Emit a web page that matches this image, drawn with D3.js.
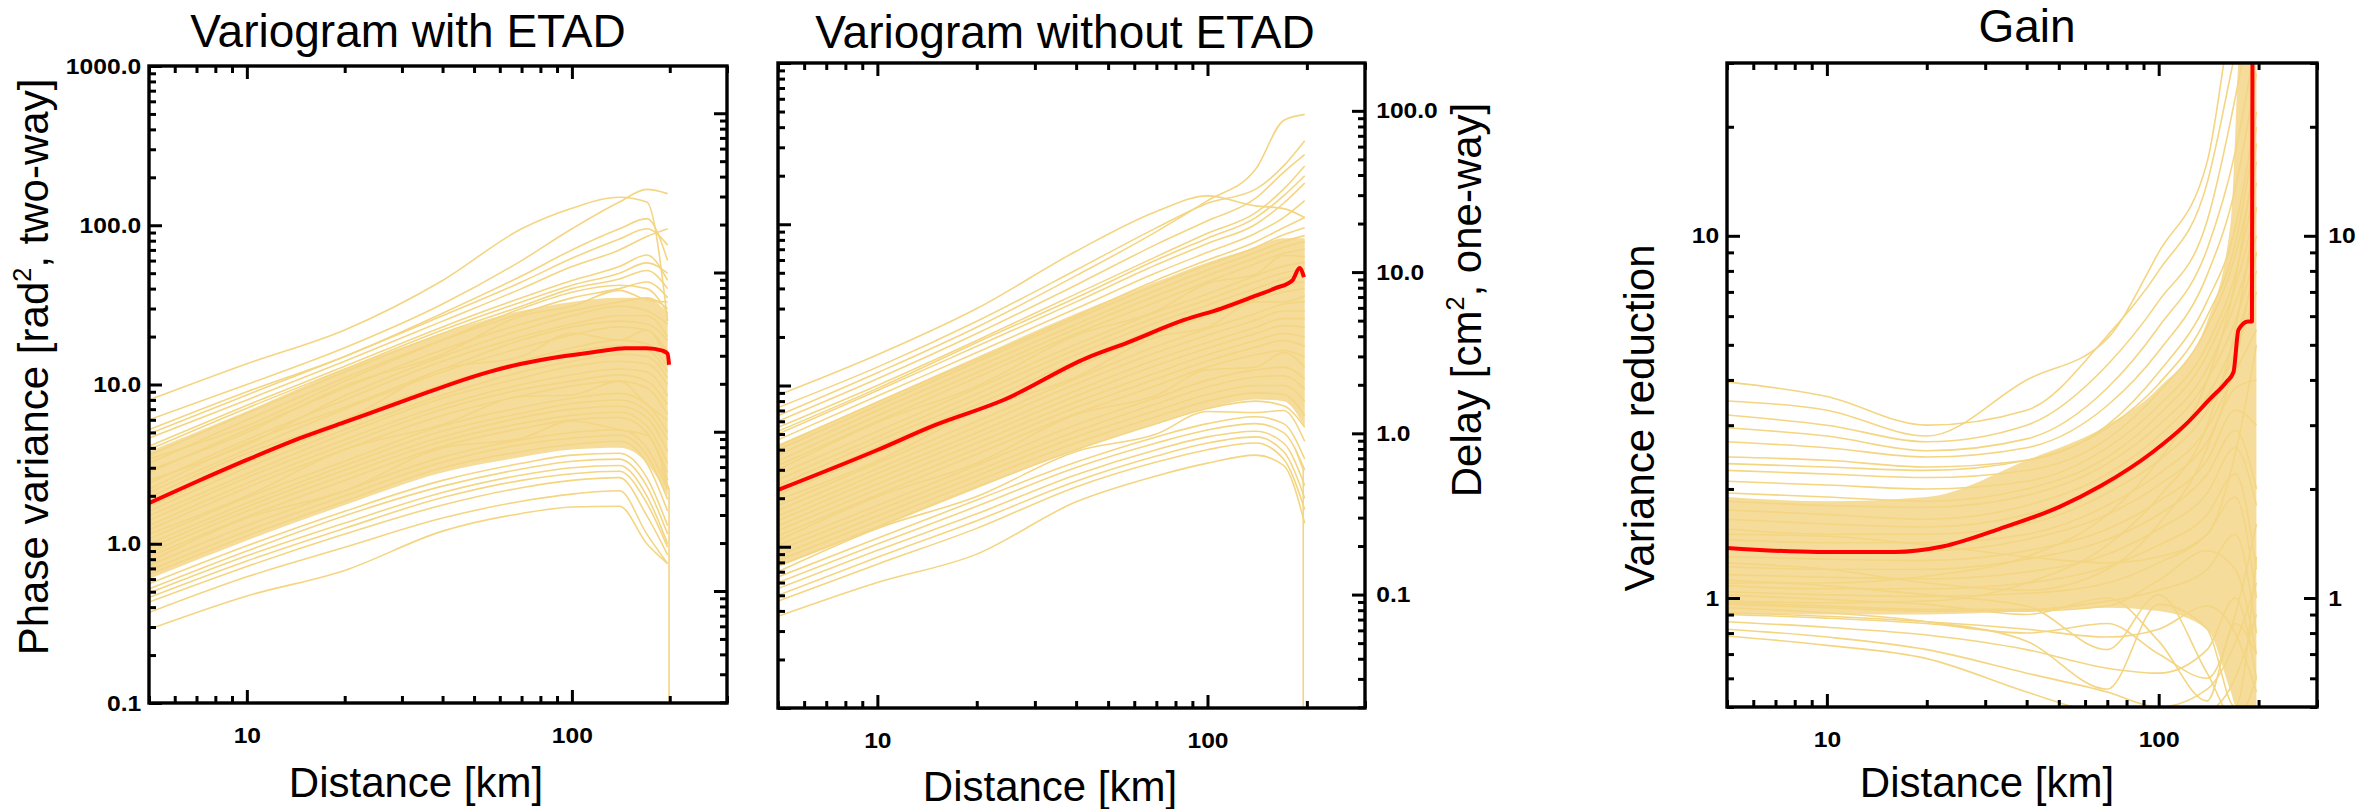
<!DOCTYPE html>
<html>
<head>
<meta charset="utf-8">
<script src="https://cdn.jsdelivr.net/npm/d3@7"></script>
<style>
    body { margin: 0; background: #fff; }
    text { font-family: "Liberation Sans", Arial, sans-serif; fill: #000; }
</style>
</head>
<body>
<svg id="chart" width="2371" height="809"></svg>
<script>
/*
    Variograms with / without ETAD and the gain between them
 */

// distance knots (km) shared by the yellow scene lines
const distKnots = [5, 10, 20, 40, 70, 100, 140, 170, 197];

// ---- Variogram with ETAD (phase variance, rad^2) ----
const withLines = [
    [8.0, 13.5, 22, 45, 95, 128, 150, 140, 25],
    [6.0, 10, 17, 32, 60, 95, 140, 168, 158],
    [5.2, 9, 15, 28, 48, 70, 95, 110, 60],
    [4.9, 8.6, 15, 27, 44, 62, 82, 95, 75],
    [4.6, 8, 14, 25, 40, 55, 70, 85, 95],
    [4.1, 7.4, 13, 23, 35, 45, 55, 65, 45],
    [3.9, 7.1, 12.5, 22, 33, 42, 50, 58, 50],
    [3.6, 6.6, 12, 21, 31, 40, 46, 52, 40],
    [3.4, 5.5, 10.5, 19, 30, 38, 42, 40, 28],
    [3.2, 6, 11, 19, 28, 35, 40, 44, 35],
    [2.9, 5.0, 9.8, 15.5, 27, 31, 39, 34, 33],
    [2.8, 5.2, 9.5, 16.5, 24, 29, 33, 35, 30],
    [2.5, 4.2, 8.5, 15, 22, 27, 31, 29, 24],
    [2.4, 4.5, 8, 14, 20, 24, 27, 27, 20],
    [2.2, 4.3, 7.2, 12.5, 19, 23, 25, 24, 19],
    [2.1, 3.9, 7, 12, 17, 20.5, 23, 22, 16],
    [1.95, 3.7, 6.0, 12.5, 15, 21, 19, 22, 14],
    [1.85, 3.4, 6, 10, 14, 17, 19, 18, 13],
    [1.7, 3.2, 5.6, 9.5, 13.5, 16, 17.5, 16.5, 12],
    [1.6, 3.0, 5.2, 8.6, 12, 14, 15.5, 15, 11],
    [1.5, 2.75, 4.9, 8.2, 11, 13, 14, 13.5, 10],
    [1.4, 2.6, 4.5, 7.4, 10, 11.5, 12.5, 12, 8.5],
    [1.3, 2.4, 4.2, 7.0, 9.3, 10.5, 11.5, 10.5, 7.5],
    [1.22, 2.25, 3.9, 6.4, 8.5, 9.8, 10.5, 9.5, 6.5],
    [1.15, 2.0, 3.9, 5.6, 8.4, 8.6, 10.5, 7.5, 6],
    [1.07, 1.95, 3.3, 5.5, 7.2, 8.2, 8.8, 7.5, 5],
    [1.0, 1.8, 3.1, 5.1, 6.6, 7.6, 8, 6.8, 4.5],
    [0.94, 1.7, 2.9, 4.7, 6.2, 7, 7.3, 6.2, 3.8],
    [0.88, 1.6, 2.7, 4.4, 5.7, 6.4, 6.7, 5.5, 3.2],
    [0.83, 1.48, 2.5, 4.1, 5.3, 6, 6.2, 5, 2.8],
    [0.77, 1.45, 2.15, 4.0, 4.6, 5.9, 5.2, 4.8, 2.5],
    [0.73, 1.3, 2.15, 3.5, 4.5, 5.0, 5.2, 4, 2.2],
    [0.68, 1.2, 2.0, 3.25, 4.2, 4.6, 4.8, 3.6, 1.9],
    [0.64, 1.12, 1.85, 3.0, 3.8, 4.2, 4.4, 3.2, 1.6],
    [0.56, 0.97, 1.6, 2.5, 3.2, 3.6, 3.7, 2.6, 1.3],
    [0.52, 0.9, 1.5, 2.3, 2.95, 3.3, 3.4, 2.3, 1.15],
    [0.49, 0.84, 1.35, 2.1, 2.7, 3.0, 3.1, 2.0, 1.0],
    [0.46, 0.78, 1.25, 1.95, 2.5, 2.75, 2.85, 1.8, 0.95],
    [0.43, 0.72, 1.15, 1.75, 2.25, 2.5, 2.6, 1.5, 0.85],
    [0.37, 0.62, 0.95, 1.45, 1.85, 2.05, 2.15, 1.15, 0.75],
    [0.29, 0.47, 0.68, 1.2, 1.55, 1.7, 1.72, 1.0, 0.75]
];
const withCoreLow = [0.6, 1.05, 1.75, 2.8, 3.5, 3.9, 4.0, 3.2, 2.0];
const withCoreHigh = [3.8, 6.8, 12.5, 21, 29, 33, 35, 35, 28];
const withMedianDist = [5, 7, 10, 15, 20, 31, 54, 70, 91, 120, 146, 170, 190, 197, 199];
const withMedian = [1.80, 2.45, 3.36, 4.7, 5.8, 8.0, 11.8, 13.5, 14.9, 16.1, 16.9, 16.9, 16.3, 15.6, 13.3];
const withDropDist = [188, 199, 199];
const withDropValue = [3.0, 2.2, 0.05];

// ---- Variogram without ETAD ----
const withoutLines = [
    [8.7, 15.5, 30, 68, 120, 150, 130, 125, 110],
    [7.3, 13, 25, 52, 95, 135, 165, 230, 330],
    [6.5, 12, 23, 48, 90, 140, 220, 440, 480],
    [6.0, 11, 21, 42, 75, 105, 145, 210, 270],
    [5.5, 10, 19, 37, 63, 88, 118, 165, 230],
    [5.2, 9.6, 18.5, 35, 60, 82, 110, 150, 200],
    [5.0, 9.3, 17.5, 33, 56, 76, 100, 135, 180],
    [4.6, 8.6, 16, 30, 50, 67, 88, 110, 140],
    [4.2, 7.9, 14.5, 27, 45, 60, 78, 95, 110],
    [4.0, 7.5, 14, 26, 42, 56, 72, 86, 95],
    [3.7, 7.0, 13, 24, 39, 52, 67, 78, 85],
    [3.4, 6.5, 12, 22.5, 36, 48, 62, 72, 78],
    [3.2, 6.0, 11.2, 21, 33, 44, 57, 66, 70],
    [3.0, 5.9, 9.9, 20.5, 29, 43, 49, 64, 63],
    [2.8, 5.2, 9.6, 18, 28.5, 37, 48, 55, 58],
    [2.6, 4.8, 8.9, 16.7, 26.5, 34, 44, 50, 53],
    [2.4, 4.5, 8.2, 15.5, 24.5, 31.5, 40, 46, 50],
    [2.25, 4.15, 7.6, 14.2, 22.5, 29, 37, 42, 44],
    [2.1, 3.8, 7.0, 13, 21, 27, 34, 38, 40],
    [1.95, 3.4, 6.9, 11.3, 20, 23, 33, 33, 36],
    [1.8, 3.3, 6.0, 11, 17.5, 22.5, 28, 32, 33],
    [1.68, 3.05, 5.55, 10.2, 16, 20.5, 25.5, 29, 29],
    [1.55, 2.85, 5.1, 9.3, 14.5, 18.5, 23, 26, 26],
    [1.45, 2.65, 4.75, 8.6, 13.3, 17, 21, 23.5, 23],
    [1.35, 2.45, 4.4, 7.9, 12, 15.5, 19, 21, 20],
    [1.26, 2.27, 4.05, 7.3, 11, 14.2, 17.3, 19, 17.5],
    [1.17, 2.1, 3.75, 6.7, 10, 13, 15.5, 16.5, 15],
    [1.09, 2.05, 3.3, 6.6, 8.7, 12.5, 13, 16, 13],
    [1.02, 1.8, 3.2, 5.7, 8.4, 10.8, 12.5, 13, 11],
    [0.95, 1.68, 2.95, 5.2, 7.7, 9.8, 11.3, 11.5, 9.5],
    [0.88, 1.55, 2.75, 4.8, 7, 8.8, 10, 10, 8],
    [0.82, 1.44, 2.55, 4.4, 6.4, 8, 9, 8.8, 6.5],
    [0.76, 1.33, 2.35, 4.0, 5.8, 7.2, 8, 7.5, 5.5],
    [0.7, 1.3, 2.05, 3.9, 5.0, 6.9, 6.8, 7.0, 4.5],
    [0.65, 1.13, 1.95, 3.35, 4.8, 5.8, 6.4, 5.8, 3.5],
    [0.6, 1.04, 1.78, 3.1, 4.4, 5.3, 5.8, 5.1, 3],
    [0.55, 0.95, 1.6, 2.8, 4.0, 4.8, 5.2, 4.4, 2.4],
    [0.5, 0.86, 1.45, 2.55, 3.65, 4.4, 4.8, 3.9, 2],
    [0.46, 0.78, 1.3, 2.35, 3.35, 4.0, 4.4, 3.5, 1.7],
    [0.37, 0.6, 0.9, 1.9, 2.75, 3.3, 3.7, 3.2, 1.4]
];
const withoutCoreLow = [0.75, 1.3, 2.3, 4.0, 5.8, 7.2, 8.2, 8.0, 5.5];
const withoutCoreHigh = [4.3, 8.0, 15, 28, 44, 58, 72, 82, 82];
const withoutMedianDist = [5, 10, 15, 24, 43, 57, 85, 110, 137, 160, 181, 190, 196];
const withoutMedian = [2.25, 3.98, 5.7, 8.1, 14.8, 18.4, 25.5, 30, 35.4, 40, 45, 53.6, 47];
const withoutDropDist = [185, 195, 195];
const withoutDropValue = [4.0, 3.0, 0.05];

// ---- Gain (variance reduction) ----
const gainLines = [
    [3.95, 3.6, 3.0, 3.3, 5.3, 8, 14, 32, 60],
    [3.5, 3.3, 2.8, 4.0, 5.2, 9, 16, 45, 60],
    [3.2, 3.0, 2.7, 3.0, 4.4, 6.6, 11, 24, 50],
    [2.95, 2.8, 2.55, 2.75, 3.8, 5.6, 9.2, 17, 35],
    [2.7, 2.6, 2.45, 2.6, 3.4, 4.8, 7.8, 13.5, 28],
    [2.45, 2.4, 2.3, 2.4, 3.0, 4.2, 6.6, 10.5, 22],
    [2.35, 2.3, 2.25, 2.4, 2.95, 3.9, 6.0, 9.5, 20],
    [2.25, 2.2, 2.15, 2.25, 2.75, 3.7, 5.6, 8.8, 16],
    [2.1, 2.05, 2.0, 2.1, 2.6, 3.4, 5.0, 7.8, 14],
    [1.95, 1.9, 1.85, 2.0, 2.45, 3.2, 4.7, 7.2, 12],
    [1.85, 1.8, 1.78, 1.92, 2.35, 3.0, 4.3, 6.5, 10],
    [1.75, 1.7, 1.65, 1.8, 2.2, 2.8, 4.0, 5.8, 9],
    [1.65, 1.6, 1.57, 1.7, 2.05, 2.6, 3.6, 5.2, 8],
    [1.55, 1.5, 1.5, 1.6, 1.95, 2.4, 3.3, 4.8, 7],
    [1.5, 1.48, 1.4, 1.3, 1.25, 1.3, 1.5, 2.5, 5],
    [1.45, 1.42, 1.42, 1.5, 1.8, 2.2, 2.95, 4.2, 5.5],
    [1.38, 1.35, 1.35, 1.45, 1.7, 2.05, 2.7, 3.8, 4],
    [1.3, 1.28, 1.27, 1.35, 1.55, 1.85, 2.4, 3.3, 3],
    [1.25, 1.2, 1.1, 1.05, 1.2, 1.6, 2.6, 4.5, 9],
    [1.22, 1.2, 1.2, 1.28, 1.45, 1.7, 2.2, 2.9, 2],
    [1.16, 1.14, 1.13, 1.18, 1.32, 1.55, 1.95, 2.6, 1.8],
    [1.12, 1.08, 1.02, 0.95, 0.72, 1.02, 0.62, 0.46, 0.6],
    [1.1, 1.1, 1.15, 1.3, 1.7, 2.4, 4.0, 7.5, 18],
    [1.08, 1.06, 1.06, 1.1, 1.22, 1.4, 1.7, 2.2, 1.2],
    [1.04, 1.02, 1.01, 1.03, 1.1, 1.25, 1.5, 1.9, 1.0],
    [1.02, 0.99, 0.96, 0.9, 1.0, 0.76, 0.52, 0.85, 0.7],
    [0.98, 0.97, 0.98, 1.1, 1.4, 1.9, 3.0, 5.5, 12],
    [0.97, 0.95, 0.93, 0.93, 0.98, 1.05, 1.2, 1.5, 0.8],
    [0.96, 0.94, 0.92, 0.92, 0.95, 1.12, 1.35, 1.2, 0.7],
    [0.94, 0.91, 0.86, 0.76, 0.56, 0.96, 0.82, 0.5, 1.3],
    [0.91, 0.89, 0.86, 0.82, 0.78, 0.82, 0.95, 0.8, 0.55],
    [0.9, 0.88, 0.85, 0.8, 0.85, 0.7, 0.6, 0.9, 1.6],
    [0.86, 0.83, 0.79, 0.72, 0.64, 0.62, 0.72, 1.0, 0.6],
    [0.82, 0.78, 0.72, 0.62, 0.55, 0.5, 0.56, 0.75, 1.1],
    [0.785, 0.74, 0.68, 0.55, 0.47, 0.44, 0.48, 0.6, 0.9]
];
const gainCoreDist = [5, 10, 20, 40, 70, 100, 140, 165, 178, 197];
const gainCoreLow = [0.9, 0.9, 0.9, 0.92, 0.94, 0.92, 0.82, 0.55, 0.45, 0.45];
const gainCoreHigh = [1.9, 1.85, 1.9, 2.4, 3.0, 3.8, 5.8, 11, 40, 40];
const gainMedianDist = [5, 9.4, 16, 22.5, 33, 50.6, 67, 96, 120, 143, 160, 168, 174, 186, 191, 192];
const gainMedian = [1.375, 1.34, 1.34, 1.39, 1.55, 1.79, 2.04, 2.53, 3.0, 3.55, 3.95, 4.2, 5.5, 5.8, 5.8, 60];

// axis ranges
const distDomain = [5, 300];
const phaseDomain = [0.1, 1000];
const gainDomain = [0.5, 30];
const delayFactor = 0.198;   // rad^2 (two-way) -> cm^2 (one-way)

const colors = { scene: "#F3D582", core: "#F5DC9B", median: "#FF0000" };

const svg = d3.select("#chart");

const panels = [
    {
        key: "with", box: { left: 149, right: 727, top: 66, bottom: 703 },
        yDomain: phaseDomain, lines: withLines, coreDist: distKnots,
        coreLow: withCoreLow, coreHigh: withCoreHigh,
        medDist: withMedianDist, med: withMedian,
        dropDist: withDropDist, drop: withDropValue,
        leftLabels: true, rightAxis: "delay", rightLabels: false, yFormat: d3.format(".1f")
    },
    {
        key: "without", box: { left: 778, right: 1365, top: 63, bottom: 708 },
        yDomain: phaseDomain, lines: withoutLines, coreDist: distKnots,
        coreLow: withoutCoreLow, coreHigh: withoutCoreHigh,
        medDist: withoutMedianDist, med: withoutMedian,
        dropDist: withoutDropDist, drop: withoutDropValue,
        leftLabels: false, rightAxis: "delay", rightLabels: true, yFormat: d3.format(".1f")
    },
    {
        key: "gain", box: { left: 1727, right: 2317, top: 63, bottom: 707 },
        yDomain: gainDomain, lines: gainLines, coreDist: gainCoreDist,
        coreLow: gainCoreLow, coreHigh: gainCoreHigh,
        medDist: gainMedianDist, med: gainMedian,
        dropDist: null, drop: null,
        leftLabels: true, rightAxis: "same", rightLabels: true, yFormat: d3.format("d")
    }
];

const isMajor = v => Math.abs(Math.log10(v) - Math.round(Math.log10(v))) < 1e-6;

function styleAxis (g) {
    g.select(".domain").remove();
    g.selectAll(".tick line").attr("stroke", "#000").attr("stroke-width", 3);
    g.selectAll(".tick text")
        .attr("fill", "#000")
        .attr("transform", "scale(1.12,1)")
        .style("font-family", "'Liberation Sans', Arial, sans-serif")
        .style("font-weight", "bold")
        .style("font-size", "22px");
}

function addAxis (maker, scale, values, size, pad, fmt, transform) {
    const ax = maker(scale).tickValues(values).tickSize(size).tickPadding(pad).tickFormat(fmt || "");
    svg.append("g").attr("transform", transform).call(ax).call(styleAxis);
}

panels.forEach(p => {
    const b = p.box;
    const x = d3.scaleLog().domain(distDomain).range([b.left, b.right]);
    const y = d3.scaleLog().domain(p.yDomain).range([b.bottom, b.top]);

    const clipId = "clip-" + p.key;
    svg.append("clipPath").attr("id", clipId)
        .append("rect")
        .attr("x", b.left).attr("y", b.top)
        .attr("width", b.right - b.left).attr("height", b.bottom - b.top);

    const plot = svg.append("g").attr("clip-path", `url(#${clipId})`);

    const area = d3.area()
        .x((d, i) => x(p.coreDist[i]))
        .y0(d => y(d[0]))
        .y1(d => y(d[1]))
        .curve(d3.curveMonotoneX);
    plot.append("path")
        .datum(p.coreLow.map((v, i) => [v, p.coreHigh[i]]))
        .attr("d", area)
        .attr("fill", colors.core);

    const sceneLine = d3.line()
        .x((d, i) => x(distKnots[i]))
        .y(d => y(d))
        .curve(d3.curveMonotoneX);
    plot.selectAll(".scene")
        .data(p.lines)
        .enter()
        .append("path")
        .attr("class", "scene")
        .attr("d", sceneLine)
        .attr("fill", "none")
        .attr("stroke", colors.scene)
        .attr("stroke-width", 1.6);

    if (p.dropDist) {
        plot.append("path")
            .attr("d", d3.line().x(d => x(d[0])).y(d => y(d[1]))(p.dropDist.map((d, i) => [d, p.drop[i]])))
            .attr("fill", "none")
            .attr("stroke", colors.scene)
            .attr("stroke-width", 1.6);
    }

    plot.append("path")
        .datum(p.medDist.map((d, i) => [d, p.med[i]]))
        .attr("d", d3.line().x(d => x(d[0])).y(d => y(d[1])).curve(d3.curveMonotoneX))
        .attr("fill", "none")
        .attr("stroke", colors.median)
        .attr("stroke-width", 4)
        .attr("stroke-linejoin", "round");

    // x ticks, bottom and top, pointing inwards
    const xt = x.ticks();
    const xMajor = xt.filter(isMajor), xMinor = xt.filter(v => !isMajor(v));
    addAxis(d3.axisBottom, x, xMinor, -7, 0, null, `translate(0,${b.bottom})`);
    addAxis(d3.axisBottom, x, xMajor, -13, 24, d3.format("d"), `translate(0,${b.bottom})`);
    addAxis(d3.axisTop, x, xMinor, -7, 0, null, `translate(0,${b.top})`);
    addAxis(d3.axisTop, x, xMajor, -13, 0, null, `translate(0,${b.top})`);

    // left y axis
    const yt = y.ticks();
    const yMajor = yt.filter(isMajor), yMinor = yt.filter(v => !isMajor(v));
    addAxis(d3.axisLeft, y, yMinor, -7, 0, null, `translate(${b.left},0)`);
    addAxis(d3.axisLeft, y, yMajor, -13, 7, p.leftLabels ? p.yFormat : null, `translate(${b.left},0)`);

    // right y axis: delay scale for the variograms, mirror for the gain
    const yr = p.rightAxis === "delay"
        ? d3.scaleLog().domain(p.yDomain.map(v => v * delayFactor)).range([b.bottom, b.top])
        : y;
    const rt = yr.ticks();
    const rMajor = rt.filter(isMajor), rMinor = rt.filter(v => !isMajor(v));
    addAxis(d3.axisRight, yr, rMinor, -7, 0, null, `translate(${b.right},0)`);
    addAxis(d3.axisRight, yr, rMajor, -13, 10, p.rightLabels ? p.yFormat : null, `translate(${b.right},0)`);

    svg.append("rect")
        .attr("x", b.left).attr("y", b.top)
        .attr("width", b.right - b.left).attr("height", b.bottom - b.top)
        .attr("fill", "none")
        .attr("stroke", "#000")
        .attr("stroke-width", 3.4);
});

// titles and axis labels
function addText (x, y, parts, size, rotate) {
    const t = svg.append("text")
        .attr("transform", `translate(${x},${y})` + (rotate ? " rotate(-90)" : ""))
        .attr("text-anchor", "middle")
        .attr("font-size", size);
    let raised = false;
    parts.forEach(part => {
        const s = t.append("tspan").text(part[0]);
        if (part[1] === "sup") {
            s.attr("font-size", size * 0.6).attr("dy", -size * 0.4);
            raised = true;
        } else if (raised) {
            s.attr("dy", size * 0.4);
            raised = false;
        }
    });
}

addText(408, 47, [["Variogram with ETAD"]], 46);
addText(1065, 48, [["Variogram without ETAD"]], 46);
addText(2027, 42, [["Gain"]], 46);

addText(416, 797, [["Distance [km]"]], 42);
addText(1050, 801, [["Distance [km]"]], 42);
addText(1987, 797, [["Distance [km]"]], 42);

addText(48, 367, [["Phase variance [rad"], ["2", "sup"], [", two-way]"]], 42, true);
addText(1481, 300, [["Delay [cm"], ["2", "sup"], [", one-way]"]], 42, true);
addText(1654, 418, [["Variance reduction"]], 42, true);
</script>
</body>
</html>
